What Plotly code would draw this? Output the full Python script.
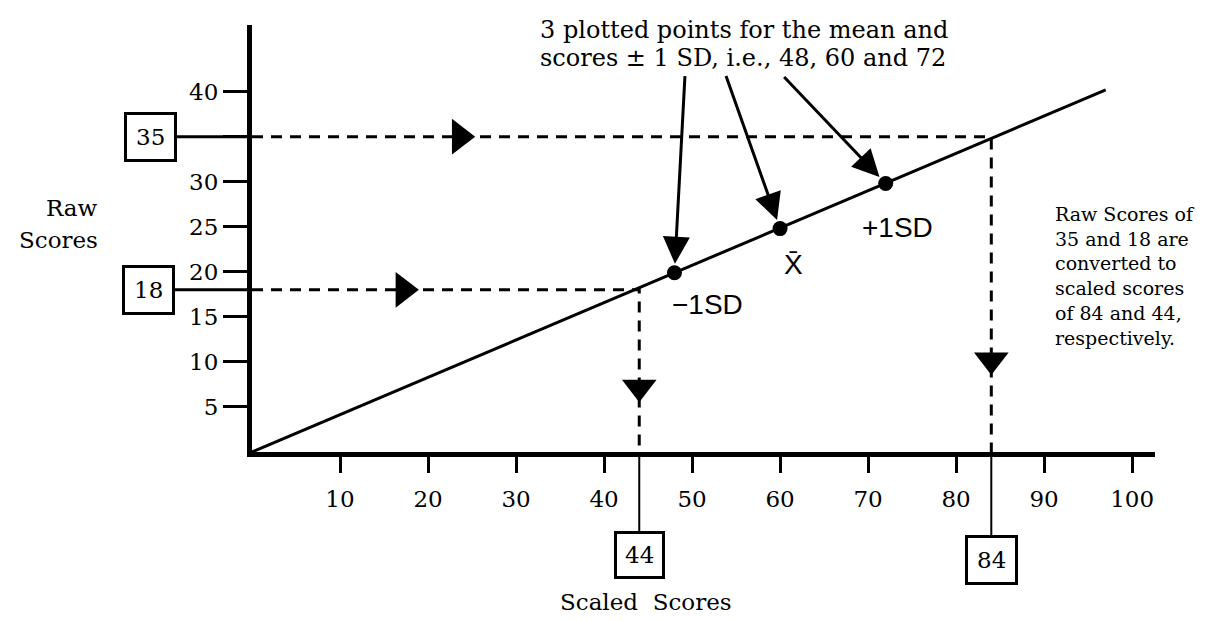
import plotly.graph_objects as go

# ---- data ----
x_ticks = [10, 20, 30, 40, 50, 60, 70, 80, 90, 100]
y_ticks = [5, 10, 15, 20, 25, 30, 35, 40]
y_tick_labels = ["5", "10", "15", "20", "25", "30", "", "40"]

line_scaled = [0, 97]
line_raw = [0, 40.2]

point_scaled = [48, 60, 72]
point_raw = [19.9, 24.8, 29.8]
point_labels = ["\u22121SD", "X\u0304", "+1SD"]

raw_examples = [35, 18]
scaled_examples = [84, 44]

SERIF = "DejaVu Serif"
SANS = "Liberation Sans"

fig = go.Figure()

# conversion line
fig.add_trace(go.Scatter(x=line_scaled, y=line_raw, mode="lines",
                         line=dict(color="black", width=3), hoverinfo="skip"))

# dashed conversion paths
for r, s in zip(raw_examples, scaled_examples):
    fig.add_trace(go.Scatter(x=[0, s, s], y=[r, r, 0], mode="lines",
                             line=dict(color="black", width=3, dash="11px,8px"),
                             hoverinfo="skip"))

# arrowheads on dashed paths
fig.add_trace(go.Scatter(x=[23.6, 17.2], y=[35, 18], mode="markers",
                         marker=dict(symbol="triangle-right", size=31, color="black"),
                         hoverinfo="skip"))
fig.add_trace(go.Scatter(x=[44, 84], y=[7.2, 10.2], mode="markers",
                         marker=dict(symbol="triangle-down", size=30, color="black"),
                         hoverinfo="skip"))

# plotted points
fig.add_trace(go.Scatter(x=point_scaled, y=point_raw, mode="markers",
                         marker=dict(size=15, color="black"), hoverinfo="skip"))

ann = []

# pointer arrows from the top text
tails = [(49.2, 41.9), (53.8, 41.9), (60.3, 41.8)]
for (tx, ty), px, py in zip(tails, point_scaled, point_raw):
    ann.append(dict(x=px, y=py, ax=tx, ay=ty, xref="x", yref="y", axref="x", ayref="y",
                    text="", showarrow=True, arrowhead=2, arrowsize=1.8, arrowwidth=3,
                    arrowcolor="black", standoff=9))


def pxx(px):
    return (px - 252) / 903.0


def pxy(py):
    return (452 - py) / 427.0


# top text
top_font = dict(family=SERIF, size=24, color="black")
ann.append(dict(x=pxx(538), y=pxy(30), xref="paper", yref="paper", xanchor="left",
                yanchor="middle", text="3 plotted points for the mean and",
                showarrow=False, font=top_font))
ann.append(dict(x=pxx(538), y=pxy(58), xref="paper", yref="paper", xanchor="left",
                yanchor="middle", text="scores \u00b1 1 SD, i.e., 48, 60 and 72",
                showarrow=False, font=top_font))

# point labels
label_pos = [(51.8, 16.4), (61.5, 20.8), (73.3, 24.9)]
for (lx, ly), t in zip(label_pos, point_labels):
    ann.append(dict(x=lx, y=ly, xref="x", yref="y", xanchor="center", yanchor="middle",
                    text=t, showarrow=False,
                    font=dict(family=SANS, size=28, color="black")))

# boxed values
box_font = dict(family=SERIF, size=23, color="black")
ann.append(dict(x=0, y=35, xref="x", yref="y", text="35", showarrow=True, arrowhead=0,
                arrowwidth=3, arrowcolor="black", ax=-102, ay=0, bordercolor="black",
                borderwidth=3, borderpad=9, font=box_font, bgcolor="white"))
ann.append(dict(x=0, y=18, xref="x", yref="y", text="18", showarrow=True, arrowhead=0,
                arrowwidth=3, arrowcolor="black", ax=-104, ay=0, bordercolor="black",
                borderwidth=3, borderpad=9, font=box_font, bgcolor="white"))
ann.append(dict(x=44, y=0, xref="x", yref="y", text="44", showarrow=True, arrowhead=0,
                arrowwidth=2, arrowcolor="black", ax=0, ay=103, bordercolor="black",
                borderwidth=3, borderpad=8, font=box_font, bgcolor="white"))
ann.append(dict(x=84, y=0, xref="x", yref="y", text="84", showarrow=True, arrowhead=0,
                arrowwidth=2, arrowcolor="black", ax=0, ay=108, bordercolor="black",
                borderwidth=3, borderpad=9, font=box_font, bgcolor="white"))

# axis titles
title_font = dict(family=SERIF, size=23, color="black")
ann.append(dict(x=pxx(100), y=pxy(208), xref="paper", yref="paper", xanchor="right",
                yanchor="middle", text="Raw", showarrow=False, font=title_font))
ann.append(dict(x=pxx(100), y=pxy(240), xref="paper", yref="paper", xanchor="right",
                yanchor="middle", text="Scores", showarrow=False, font=title_font))
ann.append(dict(x=pxx(646), y=pxy(602), xref="paper", yref="paper", xanchor="center",
                yanchor="middle", text="Scaled  Scores", showarrow=False,
                font=dict(family=SERIF, size=23, color="black")))

# right explanatory text
right_lines = ["Raw Scores of", "35 and 18 are", "converted to",
               "scaled scores", "of 84 and 44,", "respectively."]
ann.append(dict(x=pxx(1053), y=pxy(201), xref="paper", yref="paper", xanchor="left",
                yanchor="top", align="left", text="<br>".join(right_lines),
                showarrow=False, font=dict(family=SERIF, size=19, color="black")))

fig.update_layout(
    width=1230, height=621,
    margin=dict(l=252, r=75, t=25, b=169),
    paper_bgcolor="white", plot_bgcolor="white",
    showlegend=False,
    annotations=ann,
    xaxis=dict(range=[0, 102.6], showgrid=False, zeroline=False, showline=True,
               linecolor="black", linewidth=5, ticks="outside", ticklen=16, tickwidth=3,
               tickcolor="black", tickvals=x_ticks, ticktext=[str(v) for v in x_ticks],
               tickfont=dict(family=SERIF, size=23, color="black"),
               ticklabelstandoff=6, fixedrange=True),
    yaxis=dict(range=[0, 47.4], showgrid=False, zeroline=False, showline=True,
               linecolor="black", linewidth=5, ticks="outside", ticklen=24, tickwidth=3,
               tickcolor="black", tickvals=y_ticks, ticktext=y_tick_labels,
               tickfont=dict(family=SERIF, size=23, color="black"), fixedrange=True),
)

fig.write_html("out.html", post_script="document.body.style.margin='0';",
               config={"displayModeBar": False})
